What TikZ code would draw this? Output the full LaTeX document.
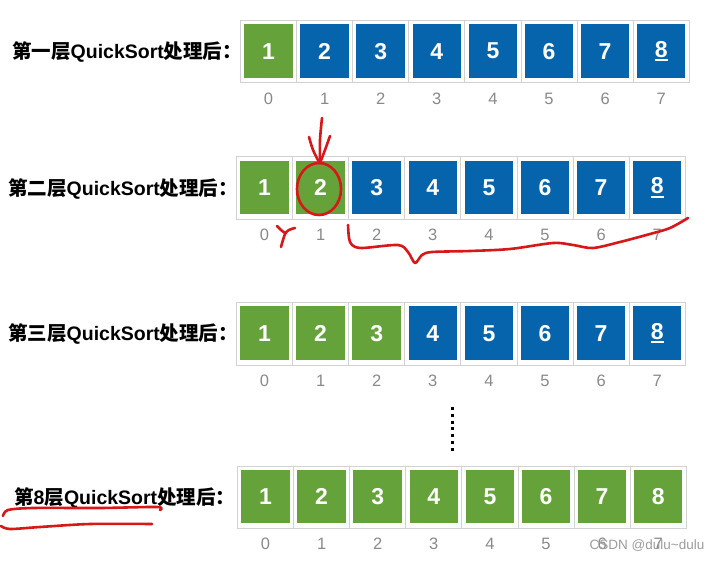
\documentclass[tikz,border=0pt]{standalone}
\usepackage{fontspec}
\setmainfont{Liberation Sans}
\newfontfamily\cjk{Noto Sans CJK SC}
\definecolor{mygreen}{HTML}{65A33A}
\definecolor{myblue}{HTML}{0664AC}
\definecolor{cellgray}{HTML}{D2D2D2}
\definecolor{idxgray}{HTML}{8A8A8A}
\definecolor{redink}{HTML}{D81818}
\newcommand{\ulnum}[1]{{\setbox0\hbox{#1}\rlap{\rule[-3.6pt]{\wd0}{1.6pt}}#1}}
\tikzset{
  cellbox/.style={draw=cellgray, line width=0.9pt, minimum width=56.1pt, minimum height=62.5pt, inner sep=0pt, anchor=north west},
  sq/.style={fill=#1, minimum width=48.5pt, minimum height=53.5pt, inner sep=0pt, text=white, font=\fontsize{23}{23}\selectfont\bfseries},
  idx/.style={text=idxgray, inner sep=0pt, anchor=base, font=\fontsize{16.5}{16.5}\selectfont},
  lbl/.style={inner sep=0pt, anchor=west, font=\fontsize{19.5}{19.5}\selectfont\bfseries},
  ink/.style={draw=redink, line width=2.6pt, line cap=round, line join=round},
}
\begin{document}
\begin{tikzpicture}[x=1pt,y=-1pt]
\useasboundingbox (0,0) rectangle (722,561);
\fill[white] (0,0) rectangle (722,561);
% rows
\foreach \r/\x/\t/\g in {1/240/20/1, 2/236/156.5/2, 3/236/302/3, 4/237/465.5/8} {
  \foreach \i in {0,...,7} {
    \pgfmathtruncatemacro\n{\i+1}
    \ifnum\i<\g \def\col{mygreen}\else\def\col{myblue}\fi
    \node[cellbox] (r\r c\i) at ({\x+\i*56.1},\t) {};
    \ifnum\n=8 \ifnum\g<8
      \node[sq=\col] (s\r c\i) at ([yshift=0.5pt]r\r c\i.center) {\ulnum{\n}};
    \else
      \node[sq=\col] (s\r c\i) at ([yshift=0.5pt]r\r c\i.center) {\n};
    \fi\else
      \node[sq=\col] (s\r c\i) at ([yshift=0.5pt]r\r c\i.center) {\n};
    \fi
    \node[idx] (x\r c\i) at ([yshift=-21pt]r\r c\i.south) {\i};
  }
}
% labels
\node[lbl] (l1) at (12,51.5) {{\cjk 第一层}QuickSort{\cjk 处理后：}};
\node[lbl] (l2) at (8,188.5) {{\cjk 第二层}QuickSort{\cjk 处理后：}};
\node[lbl] (l3) at (8,333.5) {{\cjk 第三层}QuickSort{\cjk 处理后：}};
\node[lbl] (l4) at (14,497.5) {{\cjk 第}8{\cjk 层}QuickSort{\cjk 处理后：}};
% vertical dots
\draw[line width=3pt, dash pattern=on 3pt off 3.8pt] (452,407) -- (452,451);
% red annotations
\draw[ink] plot[smooth] coordinates {(322,118) (320,140) (320,163)};
\draw[ink] plot[smooth] coordinates {(309,137) (313,150) (319,162)};
\draw[ink] plot[smooth] coordinates {(330,136) (325,150) (320,163)};
\draw[ink] (319,189) ellipse [x radius=22, y radius=26];
\draw[ink] plot[smooth] coordinates {(277,226) (281,230) (285,233)};
\draw[ink] plot[smooth] coordinates {(295,228) (289,230) (285,234) (281,247)};
\draw[ink] plot[smooth] coordinates {(348,225) (349,238) (352,245) (362,248) (398,245) (408,252) (415,263) (422,255) (432,252) (470,251) (510,249) (553,243) (573,245) (593,248) (620,242) (650,234) (670,228) (688,218)};
\draw[ink] plot[smooth] coordinates {(3,516) (8,510) (33,508) (100,508) (157,507) (160,510)};
\draw[ink] plot[smooth] coordinates {(1,526) (10,529) (40,527) (90,524) (152,524)};
% watermark
\node[text=idxgray!85, inner sep=0pt, font=\fontsize{13.5}{13.5}\selectfont] (wm) at (647,546) {CSDN @dulu\char`~dulu};
\end{tikzpicture}
\end{document}
